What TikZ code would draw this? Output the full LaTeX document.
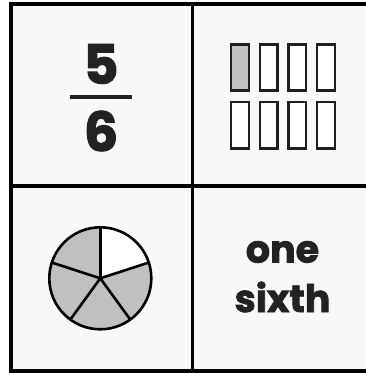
\documentclass[tikz,border=0pt]{standalone}
\usepackage{fontspec}
\setmainfont{Poppins}
\newfontfamily\heavy{Poppins}[BoldFeatures={FakeBold=2}]
\definecolor{cellbg}{HTML}{F8F8F8}
\definecolor{ink}{HTML}{222222}
\definecolor{greyfill}{HTML}{C0C0C0}
\begin{document}
\begin{tikzpicture}[x=1pt,y=-1pt,
  gridline/.style={line width=3.6pt,black},
  bar/.style={draw=ink!90!black,line width=2.4pt},
  wedge/.style={draw=black,line width=2.6pt,line join=round},
  word/.style={font=\heavy\fontsize{38}{40}\selectfont\bfseries,text=ink,inner sep=0pt},
  digit/.style={font=\heavy\fontsize{54}{54}\selectfont\bfseries,text=ink,inner sep=0pt}]
\useasboundingbox (0,0) rectangle (366,373);
\fill[white] (0,0) rectangle (366,373);
\fill[cellbg] (10.7,3.7) rectangle (366,371);
% grid
\draw[gridline] (366,3.7) -- (10.7,3.7) -- (10.7,371) -- (366,371);
\draw[gridline] (10.7,186) -- (366,186);
\draw[gridline] (192.5,3.7) -- (192.5,371);
% fraction
\node[digit] (num) at (101,64) {5};
\node[digit] (den) at (101,131) {6};
\draw[ink,line width=4pt] (69.5,97) -- (131.5,97);
% bars
\foreach \i in {0,1,2,3}{
  \draw[bar,fill=white] ({231.2+28.6*\i},44.5) rectangle ({249+28.6*\i},90.5);
  \draw[bar,fill=white] ({231.2+28.6*\i},102) rectangle ({249+28.6*\i},148.5);
}
\draw[bar,fill=greyfill] (231.2,44.5) rectangle (249,90.5);
% pie
\coordinate (c) at (100.3,278.3);
\fill[greyfill] (c) circle (51);
\fill[white] (c) -- ++(0,-51) arc[start angle=-90,end angle=-18,radius=51] -- cycle;
\foreach \a in {90,18,-54,-126,162}{
  \draw[wedge] (c) -- ++({51*cos(\a)},{-51*sin(\a)});
}
\draw[wedge] (c) circle (51);
% words
\node[word] (w1) at (282.5,252) {one};
\node[word] (w2) at (282.5,297) {sixth};
\end{tikzpicture}
\end{document}
